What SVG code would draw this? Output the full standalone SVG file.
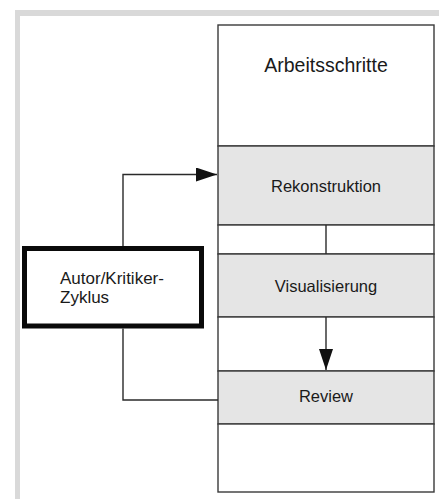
<svg xmlns="http://www.w3.org/2000/svg" width="439" height="499" viewBox="0 0 439 499">
<style>
.lbl{font-family:"Liberation Sans",Arial,sans-serif;fill:#1a1a1a}
.row{stroke:#3a3a3a;stroke-width:1.4}
.gray{fill:#e5e5e5}
.wht{fill:#ffffff}
.con{fill:none;stroke:#2a2a2a;stroke-width:1.4}
</style>
<defs>
<marker id="ah" markerWidth="22" markerHeight="14" refX="21" refY="7" orient="auto" markerUnits="userSpaceOnUse">
<path d="M0,0 L21,7 L0,14 Z" fill="#111"/>
</marker>
</defs>
<rect x="0" y="0" width="439" height="499" fill="#ffffff"/>
<rect x="15" y="10" width="424" height="489" fill="#d9d9d9"/>
<rect x="20" y="16" width="419" height="483" fill="#ffffff"/>

<g id="arbeitsschritte">
<rect class="row wht" x="218" y="25" width="216" height="121"/>
<text class="lbl" x="326" y="72" font-size="19.5" text-anchor="middle">Arbeitsschritte</text>
</g>
<g id="rekonstruktion">
<rect class="row gray" x="218" y="146" width="216" height="79"/>
<text class="lbl" x="326" y="192" font-size="16.5" text-anchor="middle">Rekonstruktion</text>
</g>
<g id="gap1">
<rect class="row wht" x="218" y="225" width="216" height="29"/>
</g>
<g id="visualisierung">
<rect class="row gray" x="218" y="254" width="216" height="63"/>
<text class="lbl" x="326" y="292" font-size="16.5" text-anchor="middle">Visualisierung</text>
</g>
<g id="gap2">
<rect class="row wht" x="218" y="317" width="216" height="54"/>
</g>
<g id="review">
<rect class="row gray" x="218" y="371" width="216" height="53"/>
<text class="lbl" x="326" y="402" font-size="16.5" text-anchor="middle">Review</text>
</g>
<g id="empty">
<rect class="row wht" x="218" y="424" width="216" height="68"/>
</g>

<g id="autor">
<rect x="24.5" y="248.5" width="177" height="77.5" fill="#ffffff" stroke="#0a0a0a" stroke-width="5"/>
<text class="lbl" x="60" y="284" font-size="17">Autor/Kritiker-</text>
<text class="lbl" x="60" y="302.5" font-size="17">Zyklus</text>
</g>

<g id="connectors">
<path class="con" d="M123,246 V174.5 H217" marker-end="url(#ah)"/>
<path class="con" d="M123,328.5 V400 H218"/>
<path class="con" d="M326,225 V254"/>
<path class="con" d="M326,317 V370" marker-end="url(#ah)"/>
</g>
</svg>
